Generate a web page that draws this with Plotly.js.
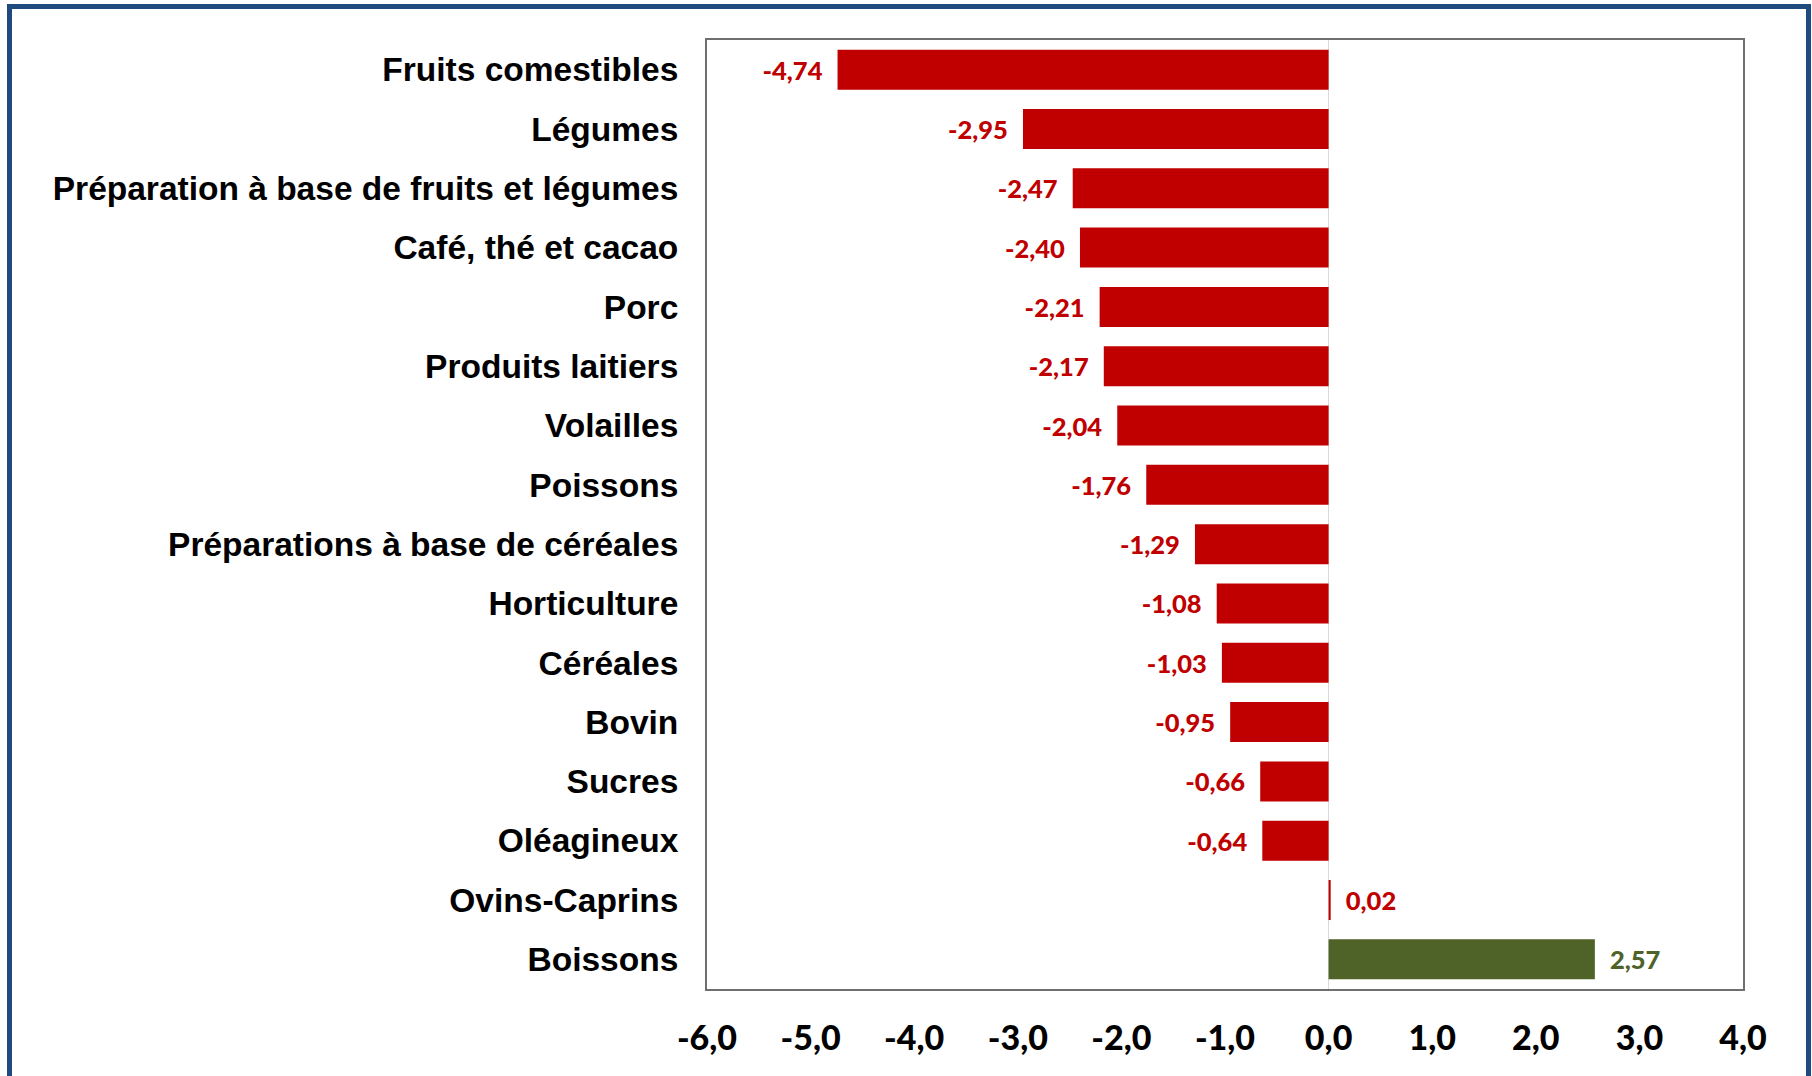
<!DOCTYPE html>
<html>
<head>
<meta charset="utf-8">
<script src="https://cdn.plot.ly/plotly-3.0.1.min.js"></script>
<style>
  html, body { margin: 0; padding: 0; background: #ffffff; overflow: hidden; }
  #chart { position: absolute; left: 0; top: 0; width: 1812px; height: 1076px; }
  #frame { position: absolute; left: 7px; top: 4px; width: 1804px; height: 1120px;
           box-sizing: border-box; border: 5px solid #1F4A7E; pointer-events: none; z-index: 10; }
</style>
</head>
<body>
<div id="chart"></div>
<div id="frame"></div>
<script>
const categories = [
  "Fruits comestibles",
  "Légumes",
  "Préparation à base de fruits et légumes",
  "Café, thé et cacao",
  "Porc",
  "Produits laitiers",
  "Volailles",
  "Poissons",
  "Préparations à base de céréales",
  "Horticulture",
  "Céréales",
  "Bovin",
  "Sucres",
  "Oléagineux",
  "Ovins-Caprins",
  "Boissons"
];
const values = [-4.74, -2.95, -2.47, -2.40, -2.21, -2.17, -2.04, -1.76, -1.29, -1.08, -1.03, -0.95, -0.66, -0.64, 0.02, 2.57];
const highlightCategory = "Boissons";
const xTickValues = [-6, -5, -4, -3, -2, -1, 0, 1, 2, 3, 4];
const xTickLabels = ["-6,0", "-5,0", "-4,0", "-3,0", "-2,0", "-1,0", "0,0", "1,0", "2,0", "3,0", "4,0"];

const RED = "#C00000";
const GREEN = "#4F6228";
const NB = "\u00a0";

const colors = categories.map(c => c === highlightCategory ? GREEN : RED);
const labels = values.map(v => {
  const s = v.toFixed(2).replace(".", ",");
  return v < 0 ? s + NB + NB : NB + NB + s;
});

const trace = {
  type: "bar",
  orientation: "h",
  x: values,
  y: categories,
  width: 0.675,
  marker: { color: colors, line: { width: 0 } },
  text: labels,
  textposition: "outside",
  constraintext: "none",
  cliponaxis: false,
  textfont: { family: "Lato, 'Open Sans', sans-serif", size: 25.5, color: colors, weight: 900 },
  hoverinfo: "skip"
};

const layout = {
  width: 1812,
  height: 1076,
  margin: { l: 707, r: 69, t: 40, b: 87, pad: 0 },
  paper_bgcolor: "#ffffff",
  plot_bgcolor: "#ffffff",
  showlegend: false,
  xaxis: {
    range: [-6, 4],
    tickmode: "array",
    tickvals: xTickValues,
    ticktext: xTickLabels,
    ticks: "",
    ticklabelstandoff: 18,
    showgrid: false,
    zeroline: true,
    zerolinecolor: "#d9d9d9",
    zerolinewidth: 1,
    showline: true,
    mirror: true,
    linecolor: "#6f6f6f",
    linewidth: 2,
    tickfont: { family: "Lato, 'Open Sans', sans-serif", size: 34, color: "#000000", weight: 900 },
    fixedrange: true
  },
  yaxis: {
    type: "category",
    categoryorder: "array",
    categoryarray: categories,
    range: [categories.length - 0.5, -0.5],
    ticks: "",
    ticklabelstandoff: 20,
    showgrid: false,
    zeroline: false,
    showline: true,
    mirror: true,
    linecolor: "#6f6f6f",
    linewidth: 2,
    tickfont: { family: "'Liberation Sans', Arial, sans-serif", size: 33.5, color: "#000000", weight: 700 },
    fixedrange: true
  }
};

Plotly.newPlot("chart", [trace], layout, { displayModeBar: false, staticPlot: true });
</script>
</body>
</html>
